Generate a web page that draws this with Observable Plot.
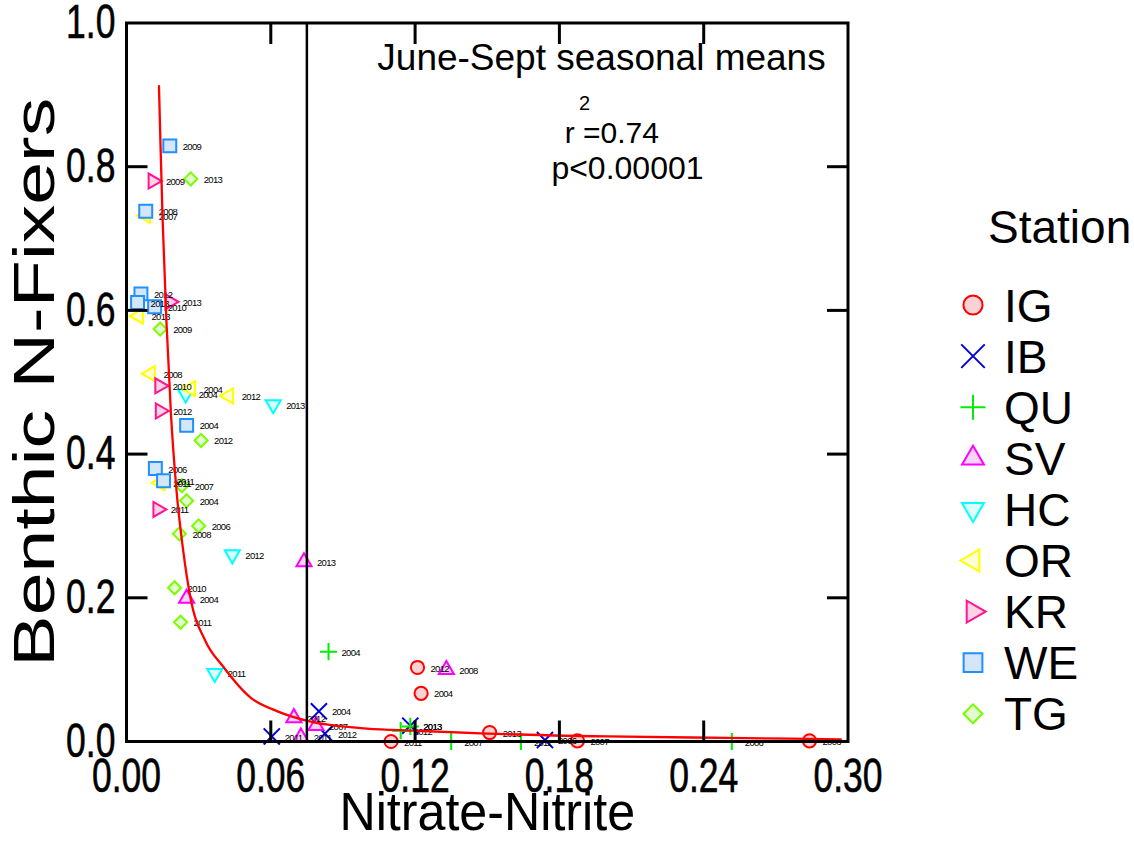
<!DOCTYPE html>
<html><head><meta charset="utf-8">
<script src="https://cdn.jsdelivr.net/npm/d3@7"></script>
<script src="https://cdn.jsdelivr.net/npm/@observablehq/plot@0.6"></script>
<style>
body{margin:0;background:#fff;font-family:"Liberation Sans",Arial,sans-serif;}
#wrap{position:relative;width:1134px;height:855px;overflow:hidden;}
#legend{position:absolute;left:0;top:0;}
g[font-size="9.5"] text{letter-spacing:-0.7px;}
g[aria-label="x-axis tick label"] text, g[aria-label="y-axis tick label"] text{stroke:black;stroke-width:0.6px;}
</style></head><body><div id="wrap"></div>
<script>
// ---------- data ----------
const stationNames = ["IG","IB","QU","SV","HC","OR","KR","WE","TG"];

const IG_x = [0.121, 0.1225, 0.151, 0.110, 0.1875, 0.284];
const IG_y = [0.103, 0.067, 0.0125, 0.0, 0.001, 0.001];
const IG_year = ["2012","2004","2013","2011","2007","2006"];

const IB_x = [0.0604, 0.080, 0.0825, 0.118, 0.174];
const IB_y = [0.007, 0.042, 0.011, 0.022, 0.002];
const IB_year = ["2011","2004","2012","2013","2006"];

const QU_x = [0.084, 0.114, 0.118, 0.135, 0.164, 0.2517];
const QU_y = [0.125, 0.015, 0.021, 0.0, 0.0, 0.0];
const QU_year = ["2004","2012","2013","2007","2011","2006"];

const SV_x = [0.0738, 0.025, 0.133, 0.0696, 0.0788, 0.0725];
const SV_y = [0.25, 0.199, 0.10, 0.033, 0.022, 0.006];
const SV_year = ["2013","2004","2008","2012","2007","2011"];

const HC_x = [0.061, 0.0246, 0.044, 0.0367];
const HC_y = [0.469, 0.484, 0.26, 0.095];
const HC_year = ["2013","2004","2012","2011"];

const OR_x = [0.008, 0.005, 0.010, 0.0267, 0.0425, 0.014];
const OR_y = [0.732, 0.592, 0.512, 0.491, 0.481, 0.36];
const OR_year = ["2007","2013","2008","2004","2012","2011"];

const KR_x = [0.011, 0.018, 0.0138, 0.014, 0.013];
const KR_y = [0.78, 0.612, 0.495, 0.46, 0.323];
const KR_year = ["2009","2013","2010","2012","2011"];

const WE_x = [0.018, 0.008, 0.006, 0.0046, 0.0117, 0.025, 0.012, 0.0154];
const WE_y = [0.829, 0.738, 0.623, 0.611, 0.605, 0.44, 0.38, 0.363];
const WE_year = ["2009","2008","2012","2013","2010","2004","2006","2011"];

const TG_x = [0.0267, 0.014, 0.031, 0.023, 0.025, 0.030, 0.022, 0.020, 0.0225];
const TG_y = [0.783, 0.574, 0.419, 0.356, 0.335, 0.30, 0.289, 0.214, 0.166];
const TG_year = ["2013","2009","2012","2007","2004","2006","2008","2010","2011"];

// fitted curve
const fitX = [0.0135, 0.0141, 0.0150, 0.0166, 0.0185, 0.0208, 0.0236, 0.0266, 0.0328, 0.040, 0.0516, 0.0628, 0.0748, 0.100, 0.120, 0.150, 0.200, 0.250, 0.297];
const fitY = [0.912, 0.835, 0.728, 0.585, 0.455, 0.349, 0.265, 0.200, 0.140, 0.105, 0.061, 0.042, 0.029, 0.018, 0.015, 0.011, 0.007, 0.005, 0.003];

const refLineX = [0.075];

const xTicks = [0, 0.06, 0.12, 0.18, 0.24, 0.30];
const xTickLabels = ["0.00","0.06","0.12","0.18","0.24","0.30"];
const yTicks = [0, 0.2, 0.4, 0.6, 0.8, 1.0];
const yTickLabels = ["0.0","0.2","0.4","0.6","0.8","1.0"];
const xInnerTicks = [0.06, 0.12, 0.18, 0.24];
const yInnerTicks = [0.2, 0.4, 0.6, 0.8];

const xTitle = "Nitrate-Nitrite";
const yTitle = "Benthic N-Fixers";
const legendTitle = "Station";
const noteTexts = ["June-Sept seasonal means", "2", "r =0.74", "p<0.00001"];
const noteX = [0.1975, 0.1905, 0.2018, 0.2083];
const noteY = [0.951, 0.888, 0.846, 0.797];
const noteSize = [37, 20, 30, 32];

// ---------- styles ----------
const s3 = Math.sqrt(3);
function tri(rot) {
  const c = Math.cos(rot), s = Math.sin(rot);
  return {draw(ctx, size) {
    const y = -Math.sqrt(size / (s3 * 3));
    [[0, y * 2], [-s3 * y, -y], [s3 * y, -y]].forEach(([px, py], i) => {
      const X = px * c - py * s, Y = px * s + py * c;
      i ? ctx.lineTo(X, Y) : ctx.moveTo(X, Y);
    });
    ctx.closePath();
  }};
}
const stationSymbol = [d3.symbolCircle, d3.symbolTimes, d3.symbolPlus, tri(0), tri(Math.PI), tri(-Math.PI/2), tri(Math.PI/2), d3.symbolSquare, d3.symbolDiamond2];
const stationStroke = ["#ff0000","#0000dd","#00ee00","#ff00ff","#00ffff","#ffff00","#ff1493","#1e90ff","#7cfc00"];
const stationFill = ["#f9d3d3","none","none","#f9d6f9","#d9ffff","#ffffd6","#fcd3e3","#d6e6fa","#e3fbd0"];
const stationR = [6.6, 7.4, 5.6, 5.6, 5.6, 5.6, 5.6, 7.3, 5.9];

const seriesX = [IG_x, IB_x, QU_x, SV_x, HC_x, OR_x, KR_x, WE_x, TG_x];
const seriesY = [IG_y, IB_y, QU_y, SV_y, HC_y, OR_y, KR_y, WE_y, TG_y];
const seriesYear = [IG_year, IB_year, QU_year, SV_year, HC_year, OR_year, KR_year, WE_year, TG_year];

const rows = stationNames.flatMap((s, i) => seriesX[i].map((x, j) => ({station: s, x, y: seriesY[i][j], year: seriesYear[i][j]})));
const fit = fitX.map((x, i) => ({x, y: fitY[i]}));
const notes = noteTexts.map((t, i) => ({t, x: noteX[i], y: noteY[i], fs: noteSize[i]}));

const TL = 21;
const tickUp = {draw(ctx){ctx.moveTo(0,0);ctx.lineTo(0,-TL);}};
const tickDown = {draw(ctx){ctx.moveTo(0,0);ctx.lineTo(0,TL);}};
const tickRight = {draw(ctx){ctx.moveTo(0,0);ctx.lineTo(TL,0);}};
const tickLeft = {draw(ctx){ctx.moveTo(0,0);ctx.lineTo(-TL,0);}};
const tickStyle = {fill: "none", stroke: "black", strokeWidth: 3, r: 5};

const stationMarks = stationNames.map((s, i) =>
  Plot.dot(rows.filter(d => d.station === s), {x: "x", y: "y", symbol: stationSymbol[i], r: stationR[i],
    stroke: stationStroke[i], fill: stationFill[i], strokeWidth: 2})
);

const chart = Plot.plot({
  width: 1134, height: 855,
  marginLeft: 126, marginRight: 286.5, marginTop: 22.5, marginBottom: 114,
  x: {domain: [0, 0.3], label: null},
  y: {domain: [0, 1], label: null},
  style: {fontFamily: '"Liberation Sans", Arial, sans-serif', background: "white", color: "black"},
  marks: [
    ...stationMarks,
    Plot.text(rows, {x: "x", y: "y", text: "year", dx: 13, dy: 1, textAnchor: "start", fontSize: 9.5, fill: "black"}),
    Plot.line(fit, {x: "x", y: "y", stroke: "#ff0000", strokeWidth: 2.3, curve: "monotone-x"}),
    Plot.ruleX(refLineX, {stroke: "black", strokeWidth: 2.5}),
    Plot.frame({stroke: "black", strokeWidth: 3}),
    Plot.dot(xInnerTicks, {x: d => d, frameAnchor: "bottom", symbol: tickUp, ...tickStyle}),
    Plot.dot(xInnerTicks, {x: d => d, frameAnchor: "top", symbol: tickDown, ...tickStyle}),
    Plot.dot(yInnerTicks, {y: d => d, frameAnchor: "left", symbol: tickRight, ...tickStyle}),
    Plot.dot(yInnerTicks, {y: d => d, frameAnchor: "right", symbol: tickLeft, ...tickStyle}),
    Plot.axisX(xTicks, {anchor: "bottom", tickSize: 0, tickPadding: 16, fontSize: 48, label: null,
      tickFormat: d => xTickLabels[xTicks.indexOf(d)]}),
    Plot.axisY(yTicks, {anchor: "left", tickSize: 0, tickPadding: 11, fontSize: 48, label: null,
      tickFormat: d => yTickLabels[yTicks.indexOf(d)]}),
    Plot.text([xTitle], {frameAnchor: "bottom", text: d => d, dy: 88, fontSize: 54}),
    Plot.text([yTitle], {frameAnchor: "left", textAnchor: "middle", text: d => d, dx: -91, rotate: -90, fontSize: 77}),
    Plot.text(notes, {x: "x", y: "y", text: "t", fontSize: "fs"})
  ]
});
document.getElementById("wrap").appendChild(chart);

// horizontal compression of the axis texts, as in the reference
const sq = (sel, t) => d3.select(chart).selectAll(sel).each(function() {
  const tr = this.getAttribute("transform") || "";
  this.setAttribute("transform", tr + " " + t);
});
sq('g[aria-label="x-axis tick label"] text', "scale(0.74,1)");
sq('g[aria-label="y-axis tick label"] text', "scale(0.74,1)");
d3.select(chart).selectAll('g[aria-label="text"] text').each(function() {
  const s = this.textContent;
  if (s === xTitle) this.setAttribute("transform", (this.getAttribute("transform")||"") + " scale(0.93,1)");
  if (s === yTitle) this.setAttribute("transform", (this.getAttribute("transform")||"") + " scale(1,0.74)");
});

// ---------- legend ----------
const lg = d3.select("#wrap").append("svg").attr("id", "legend").attr("width", 1134).attr("height", 855)
  .style("pointer-events", "none");
lg.append("text").attr("x", 988).attr("y", 243).attr("font-size", 46).attr("font-family", '"Liberation Sans", Arial, sans-serif').text(legendTitle);
stationNames.forEach((s, i) => {
  const cy = 305 + 51.1 * i;
  const r = stationR[i] * 1.45;
  lg.append("path").attr("transform", `translate(973,${cy})`)
    .attr("d", d3.symbol(stationSymbol[i], Math.PI * r * r)())
    .attr("fill", stationFill[i]).attr("stroke", stationStroke[i]).attr("stroke-width", 2);
  lg.append("text").attr("x", 1004).attr("y", cy + 16.5).attr("font-size", 46)
    .attr("font-family", '"Liberation Sans", Arial, sans-serif').text(s);
});
</script></body></html>
